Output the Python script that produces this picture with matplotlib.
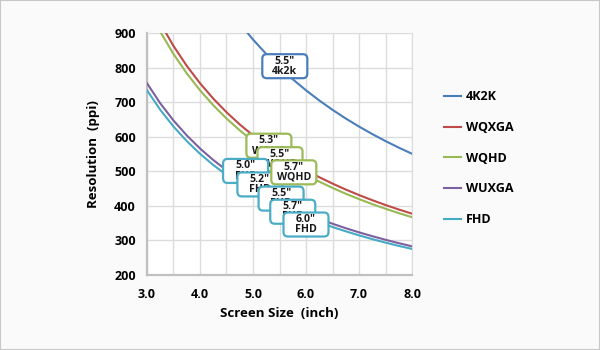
import matplotlib
matplotlib.use("Agg")
import matplotlib.pyplot as plt
from matplotlib.patches import FancyBboxPatch, Rectangle
from matplotlib.transforms import ScaledTranslation
from matplotlib.lines import Line2D

plt.rcParams['font.family'] = ['Open Sans', 'DejaVu Sans']

sizes = [3.0, 3.25, 3.5, 3.75, 4.0, 4.25, 4.5, 4.75, 5.0, 5.25, 5.5, 5.75,
         6.0, 6.25, 6.5, 6.75, 7.0, 7.25, 7.5, 7.75, 8.0]

ppi_4k2k = [1468.6, 1355.6, 1258.8, 1174.9, 1101.4, 1036.6, 979.0, 927.5, 881.1, 839.2,
            801.0, 766.2, 734.3, 704.9, 677.8, 652.7, 629.4, 607.7, 587.4, 568.5, 550.7]
ppi_wqxga = [1006.3, 928.9, 862.5, 805.0, 754.7, 710.3, 670.8, 635.5, 603.8, 575.0,
             548.9, 525.0, 503.1, 483.0, 464.4, 447.2, 431.3, 416.4, 402.5, 389.5, 377.4]
ppi_wqhd = [979.1, 903.8, 839.2, 783.3, 734.3, 691.1, 652.7, 618.4, 587.4, 559.5,
            534.0, 510.8, 489.5, 470.0, 451.9, 435.1, 419.6, 405.1, 391.6, 379.0, 367.2]
ppi_wuxga = [754.7, 696.6, 646.9, 603.8, 566.0, 532.7, 503.1, 476.7, 452.8, 431.3,
             411.7, 393.8, 377.4, 362.3, 348.3, 335.4, 323.4, 312.3, 301.9, 292.1, 283.0]
ppi_fhd = [734.3, 677.8, 629.4, 587.4, 550.7, 518.3, 489.5, 463.8, 440.6, 419.6,
           400.5, 383.1, 367.2, 352.5, 338.9, 326.4, 314.7, 303.8, 293.7, 284.2, 275.4]

series_names = ['4K2K', 'WQXGA', 'WQHD', 'WUXGA', 'FHD']
series_values = [ppi_4k2k, ppi_wqxga, ppi_wqhd, ppi_wuxga, ppi_fhd]
colors = ['#4a7ebb', '#be4b48', '#98b954', '#7d60a0', '#46aac5']

x_ticks = [3.0, 4.0, 5.0, 6.0, 7.0, 8.0]
x_tick_labels = ['3.0', '4.0', '5.0', '6.0', '7.0', '8.0']
y_ticks = [200, 300, 400, 500, 600, 700, 800, 900]

# callouts: (size label, resolution label, box colour, x, y)
callouts = [
    ('5.5"', '4k2k', '#4a7ebb', 5.6, 804),
    ('5.3"', 'WQHD', '#9bbb59', 5.30, 574),
    ('5.5"', 'WQHD', '#9bbb59', 5.51, 535),
    ('5.0"', 'FHD', '#4bacc6', 4.86, 501),
    ('5.2"', 'FHD', '#4bacc6', 5.13, 462),
    ('5.7"', 'WQHD', '#9bbb59', 5.77, 497),
    ('5.5"', 'FHD', '#4bacc6', 5.53, 421),
    ('5.7"', 'FHD', '#4bacc6', 5.75, 383),
    ('6.0"', 'FHD', '#4bacc6', 6.00, 346),
]

fig = plt.figure(figsize=(6, 3.5), dpi=100, facecolor='#fafafa')
fig.patches.append(Rectangle((0, 0), 1, 1, transform=fig.transFigure,
                             fill=False, edgecolor='#c8c8c8', linewidth=1.5))
ax = fig.add_axes([147/600, 1 - 275/350, 265/600, 242/350])
ax.set_facecolor('white')

for name, vals, c in zip(series_names, series_values, colors):
    ax.plot(sizes, vals, color=c, linewidth=1.5, label=name, zorder=3)

ax.set_xlim(3.0, 8.0)
ax.set_ylim(200, 900)
ax.set_xticks(x_ticks)
ax.set_xticklabels(x_tick_labels)
ax.set_xticks([3.5, 4.5, 5.5, 6.5, 7.5], minor=True)
ax.set_yticks(y_ticks)
ax.grid(True, which='both', color='#dcdcdc', linewidth=1.0, zorder=0)
ax.tick_params(which='both', length=0)
ax.tick_params(axis='x', pad=9)
ax.tick_params(axis='y', pad=8)
for lab in ax.get_xticklabels() + ax.get_yticklabels():
    lab.set_fontweight('bold')
    lab.set_fontsize(9)
for s in ['top', 'right']:
    ax.spines[s].set_color('#dcdcdc')
for s in ['left', 'bottom']:
    ax.spines[s].set_color('#c0c0c0')
    ax.spines[s].set_linewidth(1.6)

ax.set_xlabel('Screen Size  (inch)', fontsize=9.5, fontweight='bold', labelpad=5)
ax.set_ylabel('Resolution  (ppi)', fontsize=9.5, fontweight='bold', labelpad=10)

w, h = 0.45, 0.24
z = 5
for size_lab, res_lab, c, x, y in callouts:
    tr = fig.dpi_scale_trans + ScaledTranslation(x, y, ax.transData)
    box = FancyBboxPatch((-w/2, -h/2), w, h,
                         boxstyle='round,pad=0,rounding_size=0.045',
                         transform=tr, facecolor='white', edgecolor=c,
                         linewidth=1.6, zorder=z, clip_on=False)
    ax.add_patch(box)
    ax.text(x, y, size_lab + '\n' + res_lab, ha='center', va='center',
            fontsize=7.6, fontweight='bold', linespacing=0.9,
            color='#1a1a1a', zorder=z + 1, clip_on=False)
    z += 2

handles = [Line2D([], [], color=c, linewidth=1.5) for c in colors]
leg = fig.legend(handles, series_names, loc='upper left',
                 bbox_to_anchor=(433/600, 1 - 79/350), frameon=False,
                 handlelength=1.35, handletextpad=0.4, labelspacing=1.42,
                 prop={'weight': 'bold', 'size': 9})

fig.savefig('out.png', dpi=100, facecolor=fig.get_facecolor())
